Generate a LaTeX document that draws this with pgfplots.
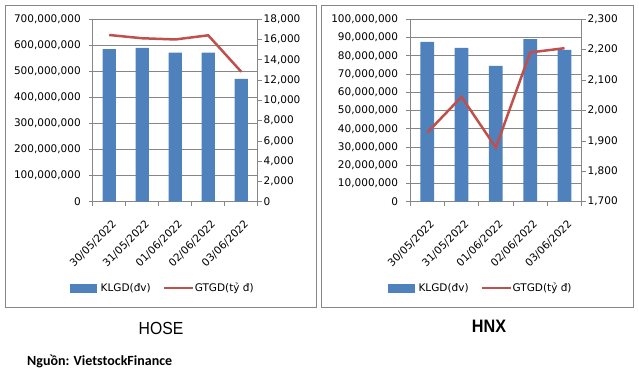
\documentclass[border=0pt]{standalone}
\usepackage{pgfplots}
\pgfplotsset{compat=1.18}
\usepackage{fontspec}
\setmainfont{DejaVu Sans}
\newfontfamily\titlefont[FakeStretch=0.9]{Liberation Sans}
\newfontfamily\srcfont{Carlito}
\definecolor{barblue}{HTML}{4F81BD}
\definecolor{linered}{HTML}{C0504D}
\definecolor{axgray}{HTML}{868686}
\definecolor{framegray}{HTML}{878787}
\newcommand{\tickfont}{\fontsize{10.5}{12}\selectfont}

\pgfplotsset{
  base/.style={
    scale only axis, anchor=south west,
    xmin=-0.5, xmax=4.5, height=182.4pt,
    axis line style={draw=axgray, line width=0.7pt},
    tick style={draw=axgray, line width=0.7pt},
    tick align=outside, major tick length=4pt, minor tick length=4pt,
    /pgf/number format/assume math mode=true,
    tick label style={font=\tickfont, text=black},
    scaled y ticks=false,
    y tick label style={/pgf/number format/fixed, /pgf/number format/precision=0, /pgf/number format/1000 sep={,}},
  },
  barax/.style={
    base,
    axis y line*=left, axis x line*=bottom,
    ymin=0, ymajorgrids,
    grid style={draw=axgray, line width=0.7pt},
    xtick={0,1,2,3,4},
    xticklabels={30/05/2022,31/05/2022,01/06/2022,02/06/2022,03/06/2022},
    minor xtick={-0.5,0.5,1.5,2.5,3.5,4.5},
    major x tick style={draw=none},
    x tick label style={xshift=5.5pt, yshift=-16.5pt, rotate=45, anchor=east, inner sep=0pt},
    y tick label style={anchor=east, inner sep=0pt, xshift=-7.7pt},
    ybar, bar width=0.4,
  },
  lineax/.style={
    base,
    axis y line*=right, axis x line=none,
    y tick label style={anchor=west, inner sep=0pt, xshift=1.8pt},
    legend style={draw=none, fill=none, legend columns=2,
      font=\tickfont, inner sep=0pt, nodes={inner sep=0pt},
      /tikz/column 1/.style={column sep=4pt},
      /tikz/column 2/.style={column sep=12pt},
      /tikz/column 3/.style={column sep=0.5pt}},
  },
}

\begin{document}
\begin{tikzpicture}
\path[use as bounding box] (0pt,0pt) rectangle (639pt,373pt);
\draw[framegray, line width=0.8pt] (5.3pt,65.7pt) rectangle (316pt,368pt);
\draw[framegray, line width=0.8pt] (321.7pt,66pt) rectangle (633.3pt,368pt);

% HOSE
\begin{axis}[barax, at={(92.7pt,171.3pt)}, width=165pt,
  ymax=700000000,
  ytick={0,100000000,200000000,300000000,400000000,500000000,600000000,700000000}]
\addplot[fill=barblue, draw=none] coordinates {(0,586000000) (1,590000000) (2,572000000) (3,572000000) (4,471000000)};
\end{axis}
\begin{axis}[lineax, at={(92.7pt,171.3pt)}, width=165pt,
  ymin=0, ymax=18000,
  ytick={0,2000,4000,6000,8000,10000,12000,14000,16000,18000},
  legend style={at={(0.42,-0.473)}, anchor=center}]
\addlegendimage{legend image code/.code={\fill[barblue] (0pt,-4pt) rectangle (26pt,4pt);}}
\addlegendentry{KLGD(đv)}
\addplot[linered, line width=2.5pt, legend image code/.code={\draw[linered, line width=2.5pt] (0pt,0pt) -- (29pt,0pt);}]
  coordinates {(0,16450) (1,16130) (2,16010) (3,16420) (4,12830)};
\addlegendentry{GTGD(tỷ đ)}
\end{axis}

% HNX
\begin{axis}[barax, at={(410pt,171.3pt)}, width=171.7pt,
  ymax=100000000,
  ytick={0,10000000,20000000,30000000,40000000,50000000,60000000,70000000,80000000,90000000,100000000}]
\addplot[fill=barblue, draw=none] coordinates {(0,87600000) (1,84300000) (2,74400000) (3,89200000) (4,83200000)};
\end{axis}
\begin{axis}[lineax, at={(410pt,171.3pt)}, width=171.7pt,
  ymin=1700, ymax=2300,
  ytick={1700,1800,1900,2000,2100,2200,2300},
  legend style={at={(0.407,-0.473)}, anchor=center}]
\addlegendimage{legend image code/.code={\fill[barblue] (0pt,-4pt) rectangle (26pt,4pt);}}
\addlegendentry{KLGD(đv)}
\addplot[linered, line width=2.5pt, legend image code/.code={\draw[linered, line width=2.5pt] (0pt,0pt) -- (29pt,0pt);}]
  coordinates {(0,1927) (1,2045) (2,1878) (3,2191) (4,2205)};
\addlegendentry{GTGD(tỷ đ)}
\end{axis}

\node[anchor=base, inner sep=0pt, font=\titlefont\fontsize{17.5}{20}\selectfont] at (161pt,38.7pt) {HOSE};
\node[anchor=base, inner sep=0pt, font=\titlefont\bfseries\fontsize{18}{20}\selectfont] at (489pt,40.3pt) {HNX};
\node[anchor=base west, inner sep=0pt, font=\srcfont\bfseries\fontsize{14}{16}\selectfont] at (27pt,8pt) {Nguồn: VietstockFinance};
\end{tikzpicture}
\end{document}
